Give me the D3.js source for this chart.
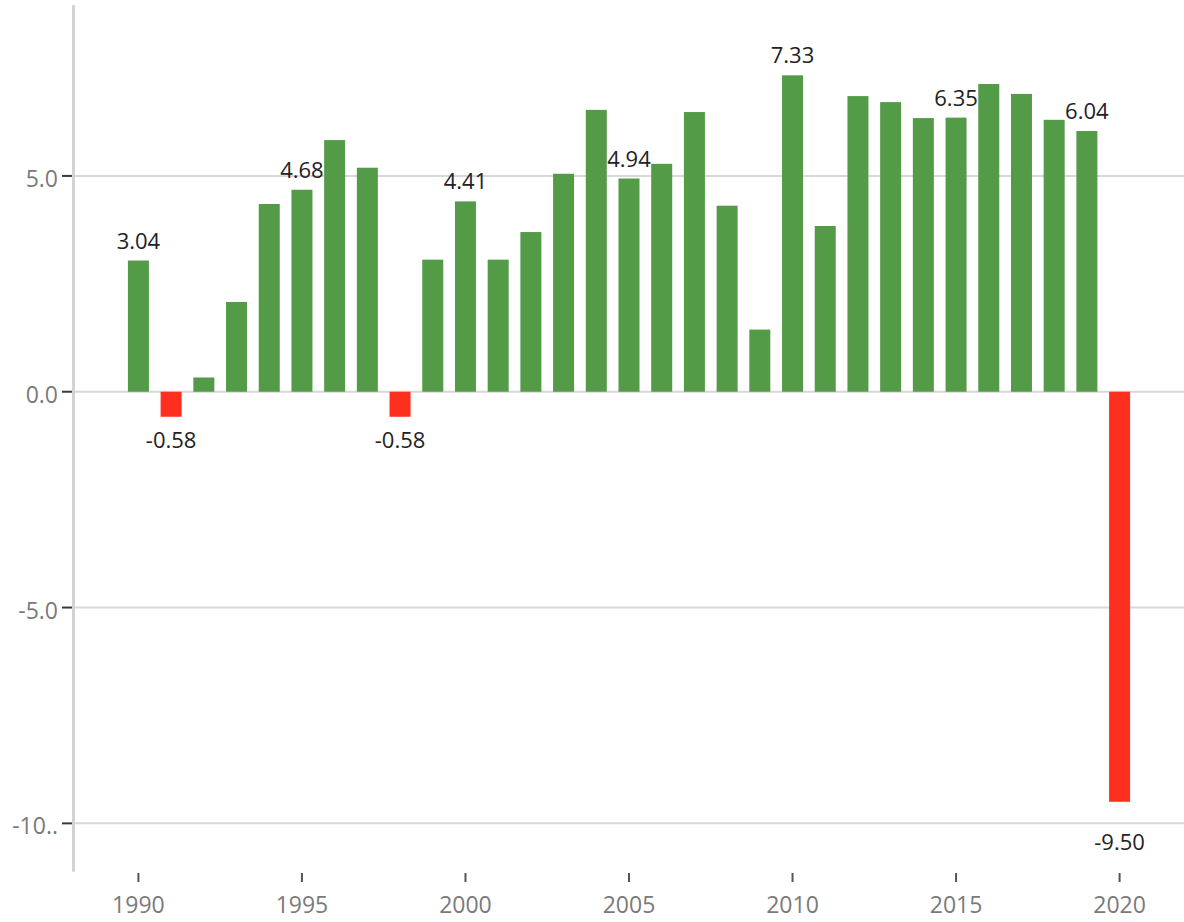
<!DOCTYPE html>
<html>
<head>
<meta charset="utf-8">
<script src="https://cdn.jsdelivr.net/npm/d3@7"></script>
<style>
  body { margin: 0; background: #fff; }
  svg { display: block; font-family: "Open Sans", sans-serif; }
</style>
</head>
<body>
<div id="chart"></div>
<script>
const years = [1990, 1991, 1992, 1993, 1994, 1995, 1996, 1997, 1998, 1999,
  2000, 2001, 2002, 2003, 2004, 2005, 2006, 2007, 2008, 2009,
  2010, 2011, 2012, 2013, 2014, 2015, 2016, 2017, 2018, 2019, 2020];
const growth = [3.04, -0.58, 0.33, 2.08, 4.35, 4.68, 5.83, 5.19, -0.58, 3.06,
  4.41, 3.06, 3.70, 5.05, 6.53, 4.94, 5.28, 6.48, 4.31, 1.44,
  7.33, 3.84, 6.85, 6.71, 6.34, 6.35, 7.13, 6.90, 6.30, 6.04, -9.50];
// only some bars carry a value label
const labelledYears = [1990, 1991, 1995, 1998, 2000, 2005, 2010, 2015, 2019, 2020];
const yTicks = [-10, -5, 0, 5];
const yTickLabels = ["-10..", "-5.0", "0.0", "5.0"];
const xTicks = [1990, 1995, 2000, 2005, 2010, 2015, 2020];

const data = years.map((y, i) => ({year: y, value: growth[i]}));

const width = 1184, height = 922;
const svg = d3.select("#chart")
  .append("svg")
    .attr("width", width)
    .attr("height", height);

const x = d3.scaleLinear()
  .domain([1988, 2022])
  .range([73, 1185]);

const y = d3.scaleLinear()
  .domain([-11.12, 8.96])
  .range([871.7, 5]);

const barWidth = 21;

// gridlines
svg.append("g")
  .selectAll("line")
  .data(yTicks)
  .join("line")
    .attr("x1", 75)
    .attr("x2", width)
    .attr("y1", d => y(d))
    .attr("y2", d => y(d))
    .attr("stroke", "#d8d8d8")
    .attr("stroke-width", 2);

// y axis line
svg.append("line")
  .attr("x1", 73.5).attr("x2", 73.5)
  .attr("y1", y.range()[1]).attr("y2", y.range()[0])
  .attr("stroke", "#d3d3d3")
  .attr("stroke-width", 3);

// y ticks + labels
const yAxis = svg.append("g");
yAxis.selectAll("line")
  .data(yTicks)
  .join("line")
    .attr("x1", 62).attr("x2", 72)
    .attr("y1", d => y(d)).attr("y2", d => y(d))
    .attr("stroke", "#3a3a3a")
    .attr("stroke-width", 2);
yAxis.selectAll("text")
  .data(yTicks)
  .join("text")
    .attr("x", 58)
    .attr("y", d => y(d) + 11)
    .attr("text-anchor", "end")
    .attr("fill", "#7a7a7a")
    .style("font-size", "23px")
    .text((d, i) => yTickLabels[i]);

// x ticks + labels
const xAxis = svg.append("g");
xAxis.selectAll("line")
  .data(xTicks)
  .join("line")
    .attr("x1", d => x(d)).attr("x2", d => x(d))
    .attr("y1", 873).attr("y2", 882)
    .attr("stroke", "#555")
    .attr("stroke-width", 2);
xAxis.selectAll("text")
  .data(xTicks)
  .join("text")
    .attr("x", d => x(d))
    .attr("y", 913)
    .attr("text-anchor", "middle")
    .attr("fill", "#7a7a7a")
    .style("font-size", "23px")
    .text(d => d);

// bars
svg.append("g")
  .selectAll("rect")
  .data(data)
  .join("rect")
    .attr("x", d => x(d.year) - barWidth / 2)
    .attr("width", barWidth)
    .attr("y", d => y(Math.max(0, d.value)))
    .attr("height", d => Math.abs(y(d.value) - y(0)))
    .attr("fill", d => d.value >= 0 ? "#539b47" : "#ff2f1f");

// value labels; negative ones drop below a gridline they would sit on
const gridYs = yTicks.map(t => y(t));
const labelBaseline = d => {
  if (d.value >= 0) return y(d.value) - 12;
  let top = y(d.value) + 15;
  const bottom = top + 16;
  const hit = gridYs.find(g => g > top && g < bottom);
  if (hit !== undefined) top = hit + 11;
  return top + 16;
};

svg.append("g")
  .selectAll("text")
  .data(data.filter(d => labelledYears.includes(d.year)))
  .join("text")
    .attr("x", d => x(d.year))
    .attr("y", labelBaseline)
    .attr("text-anchor", "middle")
    .attr("fill", "#222")
    .style("font-size", "22px")
    .text(d => d.value.toFixed(2));
</script>
</body>
</html>
